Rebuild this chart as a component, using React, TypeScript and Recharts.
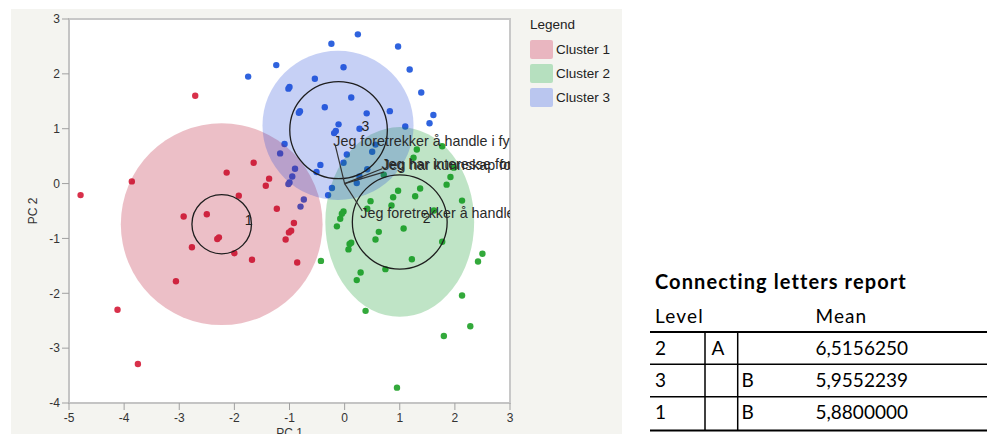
import React from 'react';
import { ScatterChart, Scatter, XAxis, YAxis, ReferenceArea, ReferenceLine } from 'recharts';

// ---------- data ----------
const xTicks = [-5, -4, -3, -2, -1, 0, 1, 2, 3];
const yTicks = [-4, -3, -2, -1, 0, 1, 2, 3];

const clusterNames = ['Cluster 1', 'Cluster 2', 'Cluster 3'];
const clusterNumbers = ['1', '2', '3'];

const cluster1X = [-4.79, -3.86, -2.71, -1.65, -2.14, -1.37, -1.43, -1.92, -1.23, -2.5, -2.92, -0.92, -0.97, -1.01, -1.07, -2.28, -2.31, -2.77, -2.0, -1.68, -0.86, -3.06, -4.12, -3.75];
const cluster1Y = [-0.21, 0.04, 1.6, 0.38, 0.2, 0.09, -0.04, -0.22, -0.46, -0.56, -0.6, -0.72, -0.86, -0.89, -1.02, -0.98, -1.01, -1.16, -1.27, -1.39, -1.44, -1.78, -2.3, -3.29];

const cluster2X = [1.31, 1.77, 1.25, 1.98, 0.71, 1.92, 1.85, 1.37, 0.97, 1.28, 0.88, 2.13, 0.47, 0.85, 0.41, -0.02, -0.05, -0.08, -0.14, 1.62, 1.07, 0.62, 0.56, 0.12, 0.09, 0.07, 1.77, 1.22, 0.74, 0.29, 0.22, 2.5, 2.42, 2.13, 2.28, 1.8, 0.95, 0.38, -0.43];
const cluster2Y = [0.62, 0.68, 0.47, 0.29, 0.16, 0.12, -0.02, -0.09, -0.13, -0.23, -0.25, -0.31, -0.32, -0.4, -0.46, -0.51, -0.55, -0.64, -0.78, -0.49, -0.82, -0.88, -1.02, -1.08, -1.1, -1.2, -1.06, -1.38, -1.56, -1.62, -1.76, -1.28, -1.42, -2.04, -2.6, -2.78, -3.72, -2.32, -1.41];

const cluster3X = [-1.75, -1.24, -0.24, 0.24, 0.97, 1.18, 1.39, 1.61, 1.54, 1.1, 0.82, 0.4, 0.12, -0.02, -0.54, -1.0, -1.02, -0.36, -0.81, -0.83, -0.11, -0.16, -0.19, 0.27, -1.09, -1.17, -0.44, -0.51, -0.9, -0.95, -1.0, -1.02, -0.74, -0.8, -0.3, -0.23, -0.02, 0.04, 0.56, 0.5, 0.41, 0.22, 0.27];
const cluster3Y = [1.95, 2.16, 2.55, 2.72, 2.5, 2.08, 1.66, 1.25, 1.1, 1.04, 1.32, 1.28, 1.57, 2.12, 1.91, 1.76, 1.73, 1.39, 1.32, 1.29, 1.08, 0.96, 0.92, 1.0, 0.72, 0.55, 0.34, 0.21, 0.27, 0.13, 0.02, -0.01, -0.29, -0.42, -0.21, -0.08, 0.38, 0.53, 0.71, 0.58, 0.26, 0.01, 0.13];

// density ellipses (centre, radii) per cluster
const ellipseCenterX = [-2.23, 1.0, -0.12];
const ellipseCenterY = [-0.74, -0.7, 1.06];
const ellipseRadiusX = [1.83, 1.35, 1.37];
const ellipseRadiusY = [1.84, 1.73, 1.36];

// cluster mean circles
const circleCenterX = [-2.23, 1.0, -0.11];
const circleCenterY = [-0.74, -0.7, 0.975];
const circleRadius = [0.54, 0.86, 0.885];

// biplot rays
const rayEndX = [-0.17, 0.68, 0.71, 0.32];
const rayEndY = [0.7, 0.27, 0.21, -0.5];
const rayLabelX = [-0.205, 0.667, 0.685, 0.285];
const rayLabelY = [0.775, 0.365, 0.346, -0.529];
const rayLabels = [
  'Jeg foretrekker å handle i fysiske butikker',
  'Jeg har interesse for',
  'Jeg har kunnskap for',
  'Jeg foretrekker å handle på nett',
];

// connecting letters report
const reportTitle = 'Connecting letters report';
const reportHeaders = ['Level', 'Mean'];
const reportLevels = ['2', '3', '1'];
const reportLetterA = ['A', '', ''];
const reportLetterB = ['', 'B', 'B'];
const reportMeans = ['6,5156250', '5,9552239', '5,8800000'];

// ---------- styles ----------
const dotColors = ['#d8304a', '#33a93b', '#2f63de'];
const discColors = ['rgb(179,0,31)', 'rgb(0,147,27)', 'rgb(27,67,215)'];
const discOpacity = 0.25;
const swatchColors = ['#e9b6c0', '#b6e0bf', '#bac6ef'];
const FONT = '"Liberation Sans", Arial, Helvetica, sans-serif';
const TFONT = 'Lato, sans-serif';

const clusterX = [cluster1X, cluster2X, cluster3X];
const clusterY = [cluster1Y, cluster2Y, cluster3Y];
const clusterData = clusterX.map((xs, c) => xs.map((x, i) => ({ x, y: clusterY[c][i] })));

const rayLabelData = rayLabels.map((t, i) => ({ x: rayLabelX[i], y: rayLabelY[i], text: t }));
const clusterNumberData = clusterNumbers.map((t, i) => ({ x: circleCenterX[i], y: circleCenterY[i], text: t }));

const PlotBackground = (p: any) => (
  <g>
    <defs>
      <clipPath id="plot-clip">
        <rect x={p.x} y={p.y} width={p.width} height={p.height} />
      </clipPath>
    </defs>
    <rect x={p.x} y={p.y} width={p.width} height={p.height} fill="#ffffff" stroke="#c8c8c8" strokeWidth={2} />
  </g>
);

const EllipseShape = (p: any) => (
  <ellipse
    cx={p.x + p.width / 2}
    cy={p.y + p.height / 2}
    rx={Math.abs(p.width / 2)}
    ry={Math.abs(p.height / 2)}
    fill={p.fill}
    fillOpacity={p.fillOpacity}
    stroke={p.stroke}
    strokeWidth={p.strokeWidth}
  />
);

const makeDot = (color: string) => (p: any) => <circle cx={p.cx} cy={p.cy} r={3.2} fill={color} />;

const RayLabel = (p: any) => (
  <text
    x={p.cx}
    y={p.cy}
    dy="0.35em"
    fill="#2a2a2a"
    fontSize={14.3}
    fontFamily={FONT}
    clipPath="url(#plot-clip)"
  >
    {p.payload.text}
  </text>
);

const ClusterNumber = (p: any) => (
  <text x={p.cx + 23} y={p.cy - 4} dy="0.35em" fill="#222" fontSize={14} fontFamily={FONT}>
    {p.payload.text}
  </text>
);

const tickStyle = { fill: '#333', fontSize: 12, fontFamily: FONT };

export default function App() {
  return (
    <div style={{ position: 'absolute', left: 0, top: 0, width: 987, height: 434, background: '#fff', overflow: 'hidden' }}>
      <div style={{ position: 'absolute', left: 11, top: 9, width: 611, height: 425, background: '#f4f4f0' }} />
      <div style={{ position: 'absolute', left: 0, top: 0 }}>
        <ScatterChart width={640} height={434} margin={{ top: 19, right: 130, bottom: 0, left: 0 }}>
          <XAxis
            type="number"
            dataKey="x"
            domain={[-5, 3]}
            ticks={xTicks}
            interval={0}
            height={31}
            tickSize={7}
            tickMargin={3}
            axisLine={{ stroke: '#c4c4c4', strokeWidth: 2 }}
            tickLine={{ stroke: '#a0a0a0' }}
            tick={tickStyle}
            label={{
              content: (p: any) => (
                <text
                  x={p.viewBox.x + p.viewBox.width / 2}
                  y={p.viewBox.y + p.viewBox.height + 3}
                  textAnchor="middle"
                  fill="#333"
                  fontSize={12}
                  fontFamily={FONT}
                >
                  PC 1
                </text>
              ),
            }}
          />
          <YAxis
            type="number"
            dataKey="y"
            domain={[-4, 3]}
            ticks={yTicks}
            interval={0}
            width={69}
            tickSize={7}
            tickMargin={2}
            axisLine={{ stroke: '#c4c4c4', strokeWidth: 2 }}
            tickLine={{ stroke: '#a0a0a0' }}
            tick={tickStyle}
            label={{
              content: (p: any) => {
                const cx = p.viewBox.x + 33;
                const cy = p.viewBox.y + p.viewBox.height / 2;
                return (
                  <text
                    x={cx}
                    y={cy}
                    dy="0.35em"
                    transform={`rotate(-90, ${cx}, ${cy})`}
                    textAnchor="middle"
                    fill="#333"
                    fontSize={12}
                    fontFamily={FONT}
                  >
                    PC 2
                  </text>
                );
              },
            }}
          />
          <ReferenceArea x1={-5} x2={3} y1={-4} y2={3} ifOverflow="visible" shape={PlotBackground} zIndex={-150} />
          {clusterData.map((d, c) => (
            <Scatter key={clusterNames[c]} name={clusterNames[c]} data={d} shape={makeDot(dotColors[c])} isAnimationActive={false} />
          ))}
          {ellipseCenterX.map((cx, c) => (
            <ReferenceArea
              key={'e' + c}
              x1={cx - ellipseRadiusX[c]}
              x2={cx + ellipseRadiusX[c]}
              y1={ellipseCenterY[c] - ellipseRadiusY[c]}
              y2={ellipseCenterY[c] + ellipseRadiusY[c]}
              ifOverflow="visible"
              fill={discColors[c]}
              fillOpacity={discOpacity}
              stroke="none"
              shape={EllipseShape}
              zIndex={650}
            />
          ))}
          {circleCenterX.map((cx, c) => (
            <ReferenceArea
              key={'c' + c}
              x1={cx - circleRadius[c]}
              x2={cx + circleRadius[c]}
              y1={circleCenterY[c] - circleRadius[c]}
              y2={circleCenterY[c] + circleRadius[c]}
              ifOverflow="visible"
              fill="none"
              stroke="#1e1e1e"
              strokeWidth={1.3}
              shape={EllipseShape}
              zIndex={660}
            />
          ))}
          {rayEndX.map((ex, i) => (
            <ReferenceLine
              key={'r' + i}
              segment={[{ x: 0, y: 0 }, { x: ex, y: rayEndY[i] }]}
              ifOverflow="visible"
              stroke="#333"
              strokeWidth={1.2}
              zIndex={670}
            />
          ))}
          <Scatter name="ray labels" data={rayLabelData} shape={RayLabel} isAnimationActive={false} legendType="none" zIndex={680} />
          <Scatter name="cluster numbers" data={clusterNumberData} shape={ClusterNumber} isAnimationActive={false} legendType="none" zIndex={680} />
        </ScatterChart>
      </div>

      {/* Legend */}
      <div style={{ position: 'absolute', left: 530, top: 17, fontFamily: FONT, fontSize: 13.5, color: '#222' }}>
        <div style={{ height: 20, lineHeight: '16px' }}>Legend</div>
        {clusterNames.map((n, i) => (
          <div key={n} style={{ display: 'flex', alignItems: 'center', height: 24 }}>
            <div style={{ width: 23, height: 19, background: swatchColors[i], borderRadius: 2, marginRight: 3 }} />
            <span>{n}</span>
          </div>
        ))}
      </div>

      {/* Connecting letters report */}
      <svg style={{ position: 'absolute', left: 640, top: 260 }} width={347} height={174}>
        <text x={15} y={29} fontFamily={TFONT} fontWeight={700} fontSize={20} letterSpacing={1.1} fill="#000">
          {reportTitle}
        </text>
        <text x={15} y={63} fontFamily={TFONT} fontSize={19} letterSpacing={1.2} fill="#000">{reportHeaders[0]}</text>
        <text x={175.5} y={63} fontFamily={TFONT} fontSize={19} letterSpacing={1.1} fill="#000">{reportHeaders[1]}</text>
        <line x1={10} x2={347} y1={72} y2={72} stroke="#000" strokeWidth={2} />
        {reportLevels.map((lv, i) => {
          const base = 95 + i * 32.2;
          return (
            <g key={lv} fontFamily={TFONT} fontSize={19} fill="#000">
              <text x={15} y={base}>{lv}</text>
              <text x={71.5} y={base}>{reportLetterA[i]}</text>
              <text x={101.5} y={base}>{reportLetterB[i]}</text>
              <text x={175.5} y={base}>{reportMeans[i]}</text>
            </g>
          );
        })}
        <line x1={10} x2={347} y1={104.3} y2={104.3} stroke="#000" strokeWidth={1.5} />
        <line x1={10} x2={347} y1={136.7} y2={136.7} stroke="#000" strokeWidth={1.5} />
        <line x1={10} x2={347} y1={170.5} y2={170.5} stroke="#000" strokeWidth={2} />
        <line x1={65} x2={65} y1={72} y2={170.5} stroke="#000" strokeWidth={1.5} />
        <line x1={97.7} x2={97.7} y1={72} y2={170.5} stroke="#000" strokeWidth={1.5} />
      </svg>
    </div>
  );
}
